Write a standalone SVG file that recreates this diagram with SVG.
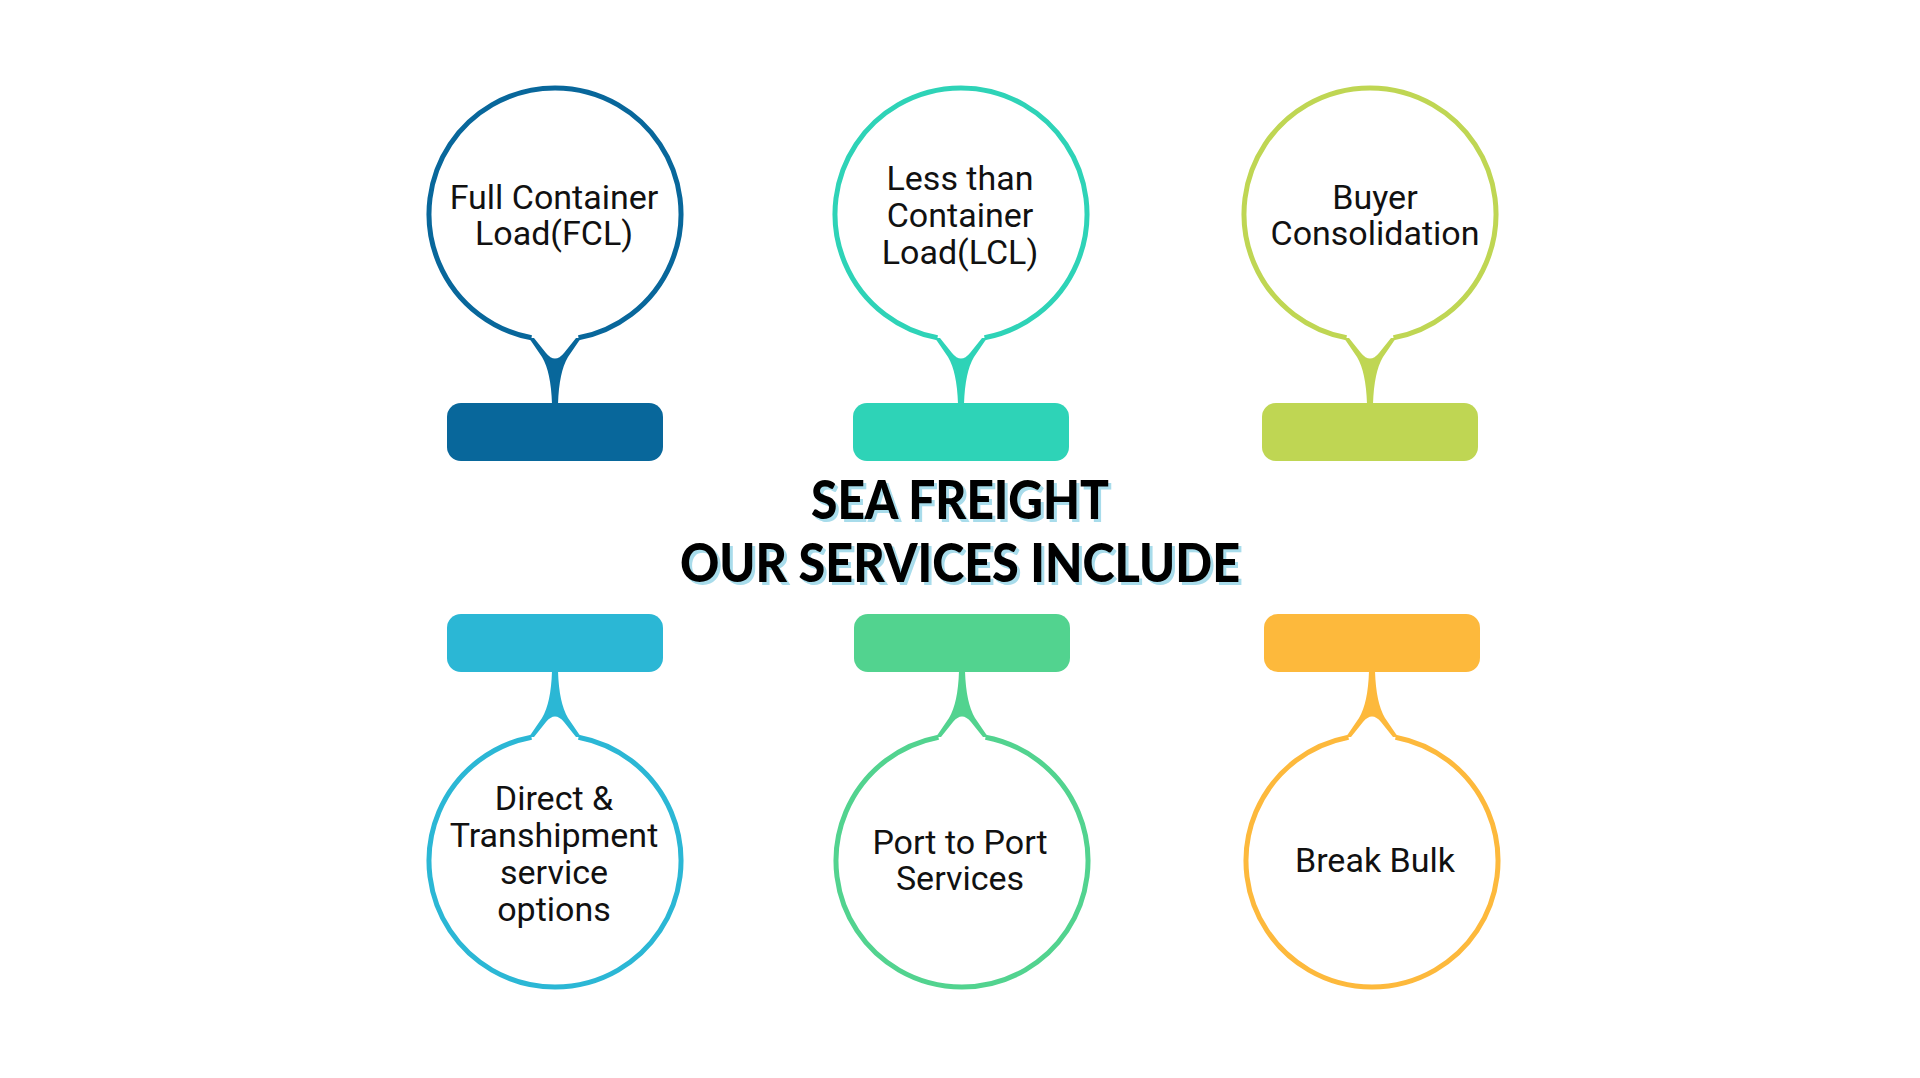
<svg xmlns="http://www.w3.org/2000/svg" width="1920" height="1078" viewBox="0 0 1920 1078">
<defs>
<style>
.lbl{font-family:Roboto,"Liberation Sans",sans-serif;font-size:34px;fill:#111;text-anchor:middle}
.ttl{font-family:Lato,"Liberation Sans",sans-serif;font-weight:900;font-size:53px;text-anchor:middle}
.ring{fill:none;stroke-width:5}
</style>
<g id="pin">
<path class="ring" d="M-23.5,123.8 A126,126 0 1 1 23.5,123.8"/>
<path d="M-26,124 L-13,143 Q-4,158 -3,190 L3,190 Q4,158 13,143 L26,124 L21,124 L9,139 Q0,150 -9,139 L-21,124 Z" stroke="none"/>
<rect x="-108" y="189" width="216" height="58" rx="14" stroke="none"/>
</g>
</defs>
<rect width="1920" height="1078" fill="#fff"/>
<g id="connectors"/>
<g id="n1"><use href="#pin" transform="translate(555,214)" fill="#08679B" stroke="#08679B"/>
<text class="lbl" x="554" y="209">Full Container</text><text class="lbl" x="554" y="245">Load(FCL)</text></g>
<g id="n2"><use href="#pin" transform="translate(961,214)" fill="#2ED3B7" stroke="#2ED3B7"/>
<text class="lbl" x="960" y="190">Less than</text><text class="lbl" x="960" y="227">Container</text><text class="lbl" x="960" y="264">Load(LCL)</text></g>
<g id="n3"><use href="#pin" transform="translate(1370,214)" fill="#BFD653" stroke="#BFD653"/>
<text class="lbl" x="1375" y="209">Buyer</text><text class="lbl" x="1375" y="245">Consolidation</text></g>
<g id="n4"><use href="#pin" transform="translate(555,861) scale(1,-1)" fill="#2BB7D5" stroke="#2BB7D5"/>
<text class="lbl" x="554" y="810">Direct &amp;</text><text class="lbl" x="554" y="847">Transhipment</text><text class="lbl" x="554" y="884">service</text><text class="lbl" x="554" y="921">options</text></g>
<g id="n5"><use href="#pin" transform="translate(962,861) scale(1,-1)" fill="#52D38F" stroke="#52D38F"/>
<text class="lbl" x="960" y="854">Port to Port</text><text class="lbl" x="960" y="890">Services</text></g>
<g id="n6"><use href="#pin" transform="translate(1372,861) scale(1,-1)" fill="#FDB93C" stroke="#FDB93C"/>
<text class="lbl" x="1375" y="872">Break Bulk</text></g>
<g id="title">
<text class="ttl" x="963" y="522" fill="#A8DCEB" textLength="298" lengthAdjust="spacingAndGlyphs">SEA FREIGHT</text>
<text class="ttl" x="963" y="585" fill="#A8DCEB" textLength="560" lengthAdjust="spacingAndGlyphs">OUR SERVICES INCLUDE</text>
<text class="ttl" x="960" y="519" fill="#000" textLength="298" lengthAdjust="spacingAndGlyphs">SEA FREIGHT</text>
<text class="ttl" x="960" y="582" fill="#000" textLength="560" lengthAdjust="spacingAndGlyphs">OUR SERVICES INCLUDE</text>
</g>
</svg>
